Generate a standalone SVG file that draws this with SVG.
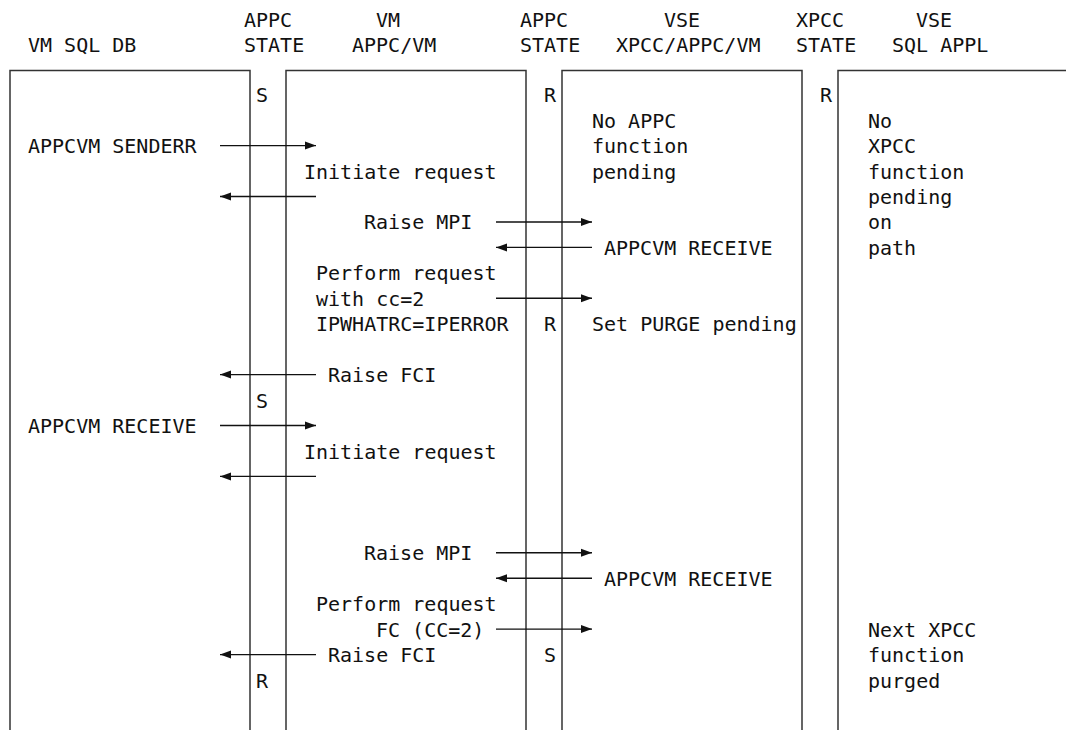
<svg xmlns="http://www.w3.org/2000/svg" width="1066" height="730" viewBox="0 0 1066 730">
<style>
text { font-family: "DejaVu Sans Mono", "Liberation Mono", monospace; font-size: 20px; fill: #111; }
.box { fill: none; stroke: #333; stroke-width: 1.5; }
.arr { stroke: #111; stroke-width: 1.4; fill: none; marker-end: url(#ah); }
</style>
<defs>
<marker id="ah" markerUnits="userSpaceOnUse" markerWidth="12" markerHeight="10" refX="11" refY="4.5" orient="auto">
<path d="M0,0.5 L11,4.5 L0,8.5 z" fill="#111"/>
</marker>
</defs>
<rect width="1066" height="730" fill="#fff"/>

<g id="vm-sql-db">
<path class="box" d="M10,730 V70.5 H250 V730"/>
<text x="28" y="52">VM SQL DB</text>
<text x="28" y="153.1">APPCVM SENDERR</text>
<text x="28" y="433.05">APPCVM RECEIVE</text>
</g>

<g id="appc-state-1">
<text x="244" y="27">APPC</text>
<text x="244" y="52">STATE</text>
<text x="256" y="102.2">S</text>
<text x="256" y="407.6">S</text>
<text x="256" y="687.55">R</text>
</g>

<g id="vm-appc-vm">
<path class="box" d="M286,730 V70.5 H526 V730"/>
<text x="376" y="27">VM</text>
<text x="352" y="52">APPC/VM</text>
<text x="304" y="178.55">Initiate request</text>
<text x="364" y="229.45">Raise MPI</text>
<text x="316" y="280.35">Perform request</text>
<text x="316" y="305.8">with cc=2</text>
<text x="316" y="331.25">IPWHATRC=IPERROR</text>
<text x="328" y="382.15">Raise FCI</text>
<text x="304" y="458.5">Initiate request</text>
<text x="364" y="560.3">Raise MPI</text>
<text x="316" y="611.2">Perform request</text>
<text x="376" y="636.65">FC (CC=2)</text>
<text x="328" y="662.1">Raise FCI</text>
</g>

<g id="appc-state-2">
<text x="520" y="27">APPC</text>
<text x="520" y="52">STATE</text>
<text x="544" y="102.2">R</text>
<text x="544" y="331.25">R</text>
<text x="544" y="662.1">S</text>
</g>

<g id="vse-xpcc-appc-vm">
<path class="box" d="M562,730 V70.5 H802 V730"/>
<text x="664" y="27">VSE</text>
<text x="616" y="52">XPCC/APPC/VM</text>
<text x="592" y="127.65">No APPC</text>
<text x="592" y="153.1">function</text>
<text x="592" y="178.55">pending</text>
<text x="604" y="254.9">APPCVM RECEIVE</text>
<text x="592" y="331.25">Set PURGE pending</text>
<text x="604" y="585.75">APPCVM RECEIVE</text>
</g>

<g id="xpcc-state">
<text x="796" y="27">XPCC</text>
<text x="796" y="52">STATE</text>
<text x="820" y="102.2">R</text>
</g>

<g id="vse-sql-appl">
<path class="box" d="M838,730 V70.5 H1066"/>
<text x="916" y="27">VSE</text>
<text x="892" y="52">SQL APPL</text>
<text x="868" y="127.65">No</text>
<text x="868" y="153.1">XPCC</text>
<text x="868" y="178.55">function</text>
<text x="868" y="204">pending</text>
<text x="868" y="229.45">on</text>
<text x="868" y="254.9">path</text>
<text x="868" y="636.65">Next XPCC</text>
<text x="868" y="662.1">function</text>
<text x="868" y="687.55">purged</text>
</g>

<g id="connectors">
<line class="arr" x1="220" y1="145.6" x2="316" y2="145.6"/>
<line class="arr" x1="316" y1="196.5" x2="220" y2="196.5"/>
<line class="arr" x1="496" y1="222" x2="592" y2="222"/>
<line class="arr" x1="592" y1="247.4" x2="496" y2="247.4"/>
<line class="arr" x1="496" y1="298.3" x2="592" y2="298.3"/>
<line class="arr" x1="316" y1="374.6" x2="220" y2="374.6"/>
<line class="arr" x1="220" y1="425.5" x2="316" y2="425.5"/>
<line class="arr" x1="316" y1="476.4" x2="220" y2="476.4"/>
<line class="arr" x1="496" y1="552.8" x2="592" y2="552.8"/>
<line class="arr" x1="592" y1="578.2" x2="496" y2="578.2"/>
<line class="arr" x1="496" y1="629.1" x2="592" y2="629.1"/>
<line class="arr" x1="316" y1="654.6" x2="220" y2="654.6"/>
</g>
</svg>
